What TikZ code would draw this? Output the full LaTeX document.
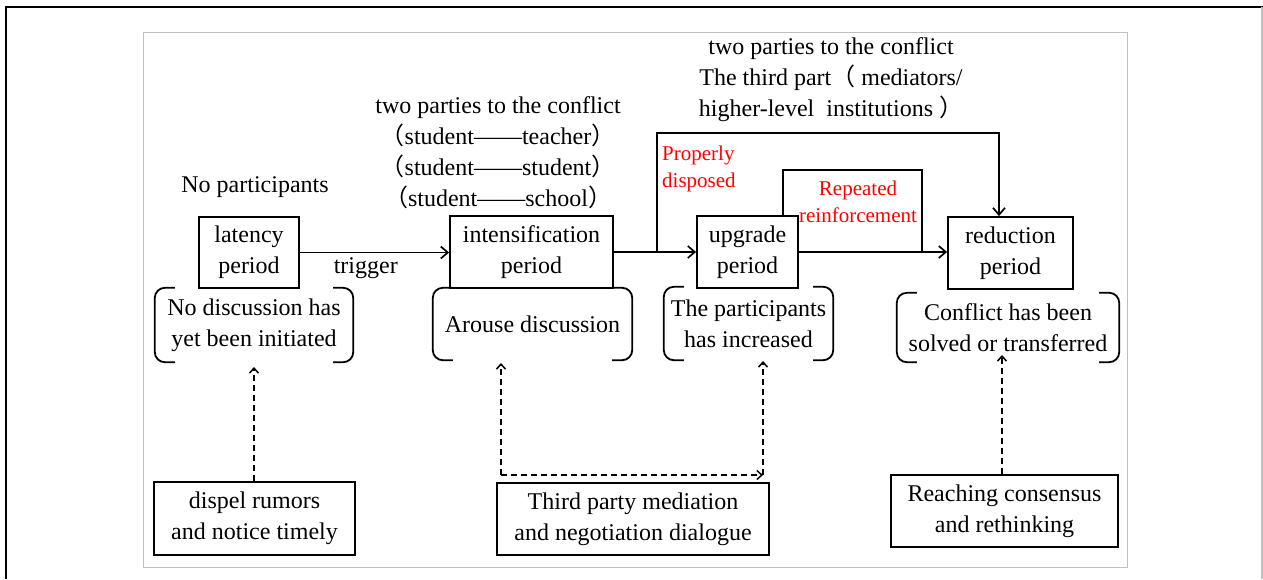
\documentclass[tikz,border=0pt]{standalone}
\usepackage{fontspec}
\setmainfont{Liberation Serif}
\newfontfamily\cjk{Noto Sans CJK SC}
\usetikzlibrary{arrows.meta}
\definecolor{framegray}{HTML}{BFBFBF}
\begin{document}
\begin{tikzpicture}[x=1pt,y=-1pt,
  every node/.style={font=\fontsize{24}{31}\selectfont, inner sep=0pt, align=center},
  stagebox/.style={draw, line width=1.8pt},
  txt/.style={},
  redtxt/.style={text=red, font=\fontsize{21}{27}\selectfont},
  brk/.style={line width=1.8pt, rounded corners=10pt},
  arr/.style={line width=1.7pt, -{Straight Barb[length=7pt,width=12pt,line width=1.7pt]}},
  plain/.style={line width=1.7pt},
  darr/.style={line width=1.5pt, dash pattern=on 6pt off 4pt, -{Straight Barb[length=5pt,width=9pt,line width=1.5pt]}}
]
\useasboundingbox (0,0) rectangle (1263,579);
% outer frame
\draw[line width=2.2pt] (5,7) -- (1263,7);
\draw[line width=2.5pt] (6,7) -- (6,579);
\draw[framegray, line width=1.5pt] (1262,7) -- (1262,579);
% inner frame
\draw[framegray, line width=1pt] (143,32) rectangle (1127,567);

% stage boxes
\node[stagebox, line width=2.6pt, minimum width=100, minimum height=71] (lat) at (249,252.5) {latency\\period};
\node[stagebox, minimum width=163, minimum height=72] (int) at (531.5,252) {intensification\\period};
\node[stagebox, minimum width=101, minimum height=72] (upg) at (747.5,252) {upgrade\\period};
\node[stagebox, minimum width=125, minimum height=72] (red) at (1010.5,253) {reduction\\period};

% bottom boxes
\node[stagebox, minimum width=201, minimum height=73] (dis) at (254.5,518.5) {dispel rumors\\and notice timely};
\node[stagebox, minimum width=272, minimum height=72] (thp) at (633,519) {Third party mediation\\and negotiation dialogue};
\node[stagebox, minimum width=227, minimum height=72] (rea) at (1004.5,511) {Reaching consensus\\and rethinking};

% participants texts
\node[txt] (np) at (255,187) {No participants};
\node[txt] (tp1) at (498,152.5) {two parties to the conflict\\{\cjk （}student——teacher{\cjk ）}\\{\cjk （}student——student{\cjk ）}\\{\cjk （}student——school{\cjk ）}};
\node[txt] (tp2) at (831,80) {two parties to the conflict\\The third part{\cjk （} mediators/\\higher-level\ \ institutions {\cjk ）}};

% bracket descriptions
\node[minimum width=198, minimum height=74] (b1) at (254,325) {No discussion has\\yet been initiated};
\node[minimum width=199, minimum height=72] (b2) at (532.5,324) {Arouse discussion};
\node[minimum width=169, minimum height=73] (b3) at (748.5,323.5) {The participants\\has increased};
\node[minimum width=222, minimum height=69] (b4) at (1008,327.5) {Conflict has been\\solved or transferred};
\foreach \b in {b1,b2,b3,b4}{
  \draw[brk] ([xshift=20pt]\b.north west) -- (\b.north west) -- (\b.south west) -- ([xshift=20pt]\b.south west);
  \draw[brk] ([xshift=-20pt]\b.north east) -- (\b.north east) -- (\b.south east) -- ([xshift=-20pt]\b.south east);
}

% main flow
\draw[arr] (lat.east) -- (lat.east -| int.west) node[pos=0.44, below=4pt, txt] (trg) {trigger};
\draw[arr] (int.east) -- (int.east -| upg.west);
\draw[arr] (upg.east) -- (upg.east -| red.west);

% properly disposed branch
\coordinate (pd) at (657,252);
\coordinate (pdt) at (657,133);
\coordinate (pdr) at (999,133);
\draw[arr] (pd) -- (pdt) -- (pdr) -- (pdr |- red.north);
\node[redtxt, anchor=west, align=left] (pdl) at (662,168.5) {Properly\\disposed};

% repeated reinforcement loop
\coordinate (rr1) at (783,170);
\coordinate (rr2) at (922,170);
\draw[plain] (rr1 |- upg.north) -- (rr1) -- (rr2) -- (rr2 |- upg.east);
\node[redtxt] (rrl) at (858,201.5) {Repeated\\reinforcement};

% dashed supports
\coordinate (dt) at (254,367);
\draw[darr] (dt |- dis.north) -- (dt);
\coordinate (tl) at (501,475);
\coordinate (tr) at (763,475);
\coordinate (tlt) at (501,363);
\coordinate (trt) at (763,361);
\draw[darr] (tl) -- (tlt);
\draw[darr] (tl) -- (tr);
\draw[darr] (tr) -- (trt);
\coordinate (rt) at (1002,355);
\draw[darr] (rt |- rea.north) -- (rt);
\end{tikzpicture}
\end{document}
